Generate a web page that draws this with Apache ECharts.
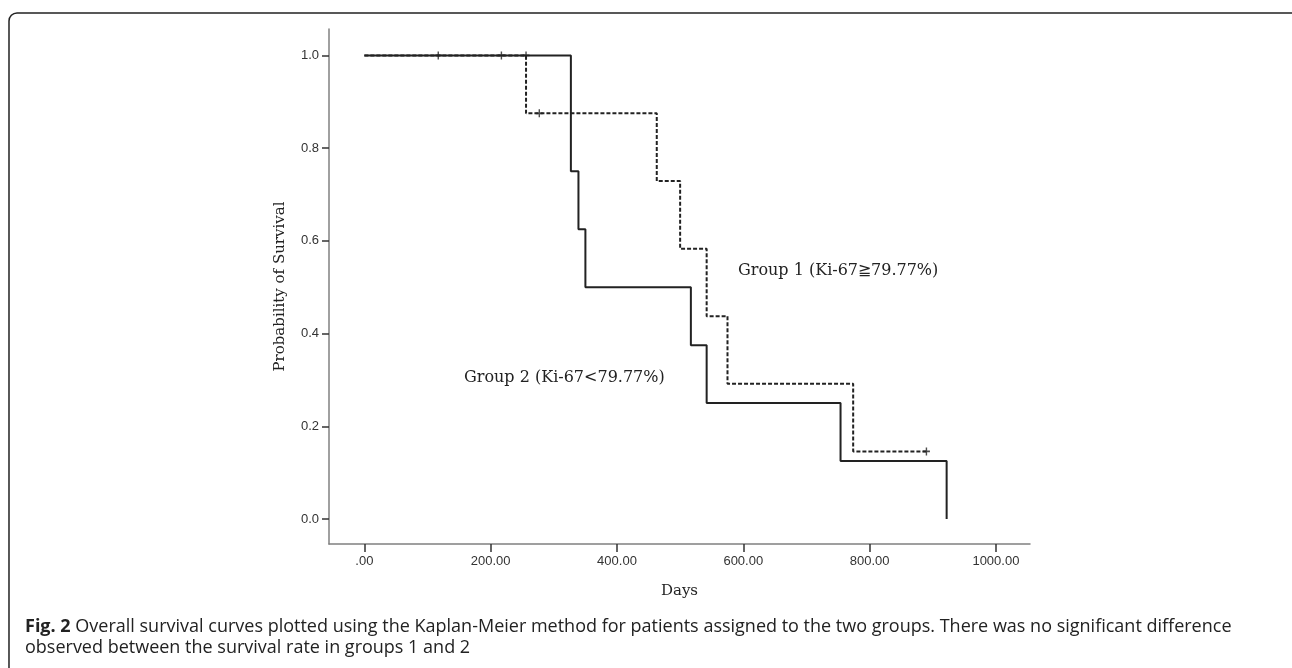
<!DOCTYPE html>
<html>
<head>
<meta charset="utf-8">
<script src="https://cdn.jsdelivr.net/npm/echarts@6/dist/echarts.min.js"></script>
<style>
  html, body { margin: 0; padding: 0; background: #fff; }
  #grafico { width: 1292px; height: 668px; }
</style>
</head>
<body>
<div id="grafico"></div>
<script>
// Datos (dias, probabilidad de supervivencia)
var grupo1Dias = [0, 256, 463, 500, 542, 575, 774, 890];
var grupo1Prob = [1, 0.875, 0.729, 0.583, 0.4375, 0.2917, 0.1458, 0.1458];
var grupo2Dias = [0, 327, 339, 350, 517, 542, 754, 922];
var grupo2Prob = [1, 0.75, 0.625, 0.5, 0.375, 0.25, 0.125, 0];

// Censuras (+)
var censura1Dias = [256, 277, 890];
var censura1Prob = [1, 0.875, 0.1458];
var censura2Dias = [117, 217];
var censura2Prob = [1, 1];

var ticksX = [0, 200, 400, 600, 800, 1000];
var ticksY = [0, 0.2, 0.4, 0.6, 0.8, 1.0];

function pares(xs, ys) {
  return xs.map(function (x, i) { return [x, ys[i]]; });
}

var cruz = 'path://M0,-4L0,4M-3,0L3,0';

var grafico = echarts.init(document.getElementById('grafico'), null, { renderer: 'canvas' });

var option = {
  animation: false,
  grid: { left: 329, top: 29, right: 262, bottom: 124 },
  xAxis: {
    type: 'value',
    min: -56,
    max: 1054,
    name: 'Days',
    nameLocation: 'middle',
    nameGap: 40,
    nameTextStyle: { fontFamily: 'DejaVu Serif', fontSize: 15, color: '#222' },
    axisLine: { show: true, onZero: false, lineStyle: { color: '#808080', width: 1.5 } },
    axisTick: { show: true, customValues: ticksX, length: 8, lineStyle: { color: '#333', width: 1.5 } },
    axisLabel: {
      customValues: ticksX,
      margin: 11,
      fontFamily: 'Liberation Sans',
      fontSize: 13,
      color: '#333',
      formatter: function (v) { return v === 0 ? '.00' : v.toFixed(2); }
    },
    splitLine: { show: false }
  },
  yAxis: {
    type: 'value',
    min: -0.054,
    max: 1.057,
    name: 'Probability of Survival',
    nameLocation: 'middle',
    nameGap: 41,
    nameTextStyle: { fontFamily: 'DejaVu Serif', fontSize: 15, color: '#222' },
    axisLine: { show: true, onZero: false, lineStyle: { color: '#808080', width: 1.5 } },
    axisTick: { show: true, customValues: ticksY, length: 7, lineStyle: { color: '#333', width: 1.5 } },
    axisLabel: {
      customValues: ticksY,
      margin: 10,
      fontFamily: 'Liberation Sans',
      fontSize: 13,
      color: '#333',
      formatter: function (v) { return v.toFixed(1); }
    },
    splitLine: { show: false }
  },
  series: [
    {
      name: 'Group 2',
      type: 'line',
      step: 'end',
      data: pares(grupo2Dias, grupo2Prob),
      showSymbol: false,
      lineStyle: { color: '#222', width: 2 },
      z: 2
    },
    {
      name: 'Group 1',
      type: 'line',
      step: 'end',
      data: pares(grupo1Dias, grupo1Prob),
      showSymbol: false,
      lineStyle: { color: '#222', width: 2, type: [4, 2] },
      z: 3
    },
    {
      name: 'Censura 1',
      type: 'scatter',
      data: pares(censura1Dias, censura1Prob),
      symbol: cruz,
      symbolSize: [7, 8],
      itemStyle: { color: 'none', borderColor: '#222', borderWidth: 1.5 },
      z: 4
    },
    {
      name: 'Censura 2',
      type: 'scatter',
      data: pares(censura2Dias, censura2Prob),
      symbol: cruz,
      symbolSize: [7, 8],
      itemStyle: { color: 'none', borderColor: '#222', borderWidth: 1.5 },
      z: 4
    }
  ],
  graphic: [
    {
      type: 'rect',
      shape: { x: 9, y: 13, width: 1300, height: 700, r: 8 },
      style: { fill: 'none', stroke: '#222', lineWidth: 1.5 },
      silent: true
    },
    {
      type: 'text',
      left: 738,
      top: 263,
      style: { text: 'Group 1 (Ki-67\u226779.77%)', font: '16px "DejaVu Serif"', fill: '#222' }
    },
    {
      type: 'text',
      left: 464,
      top: 370,
      style: { text: 'Group 2 (Ki-67<79.77%)', font: '16px "DejaVu Serif"', fill: '#222' }
    },
    {
      type: 'text',
      left: 25,
      top: 616,
      style: {
        text: '{b|Fig. 2} Overall survival curves plotted using the Kaplan-Meier method for patients assigned to the two groups. There was no significant difference\nobserved between the survival rate in groups 1 and 2',
        font: '18px "Open Sans"',
        fill: '#222',
        lineHeight: 21,
        rich: {
          b: { font: 'bold 18px "Open Sans"', fill: '#222' }
        }
      }
    }
  ]
};

grafico.setOption(option);
</script>
</body>
</html>
